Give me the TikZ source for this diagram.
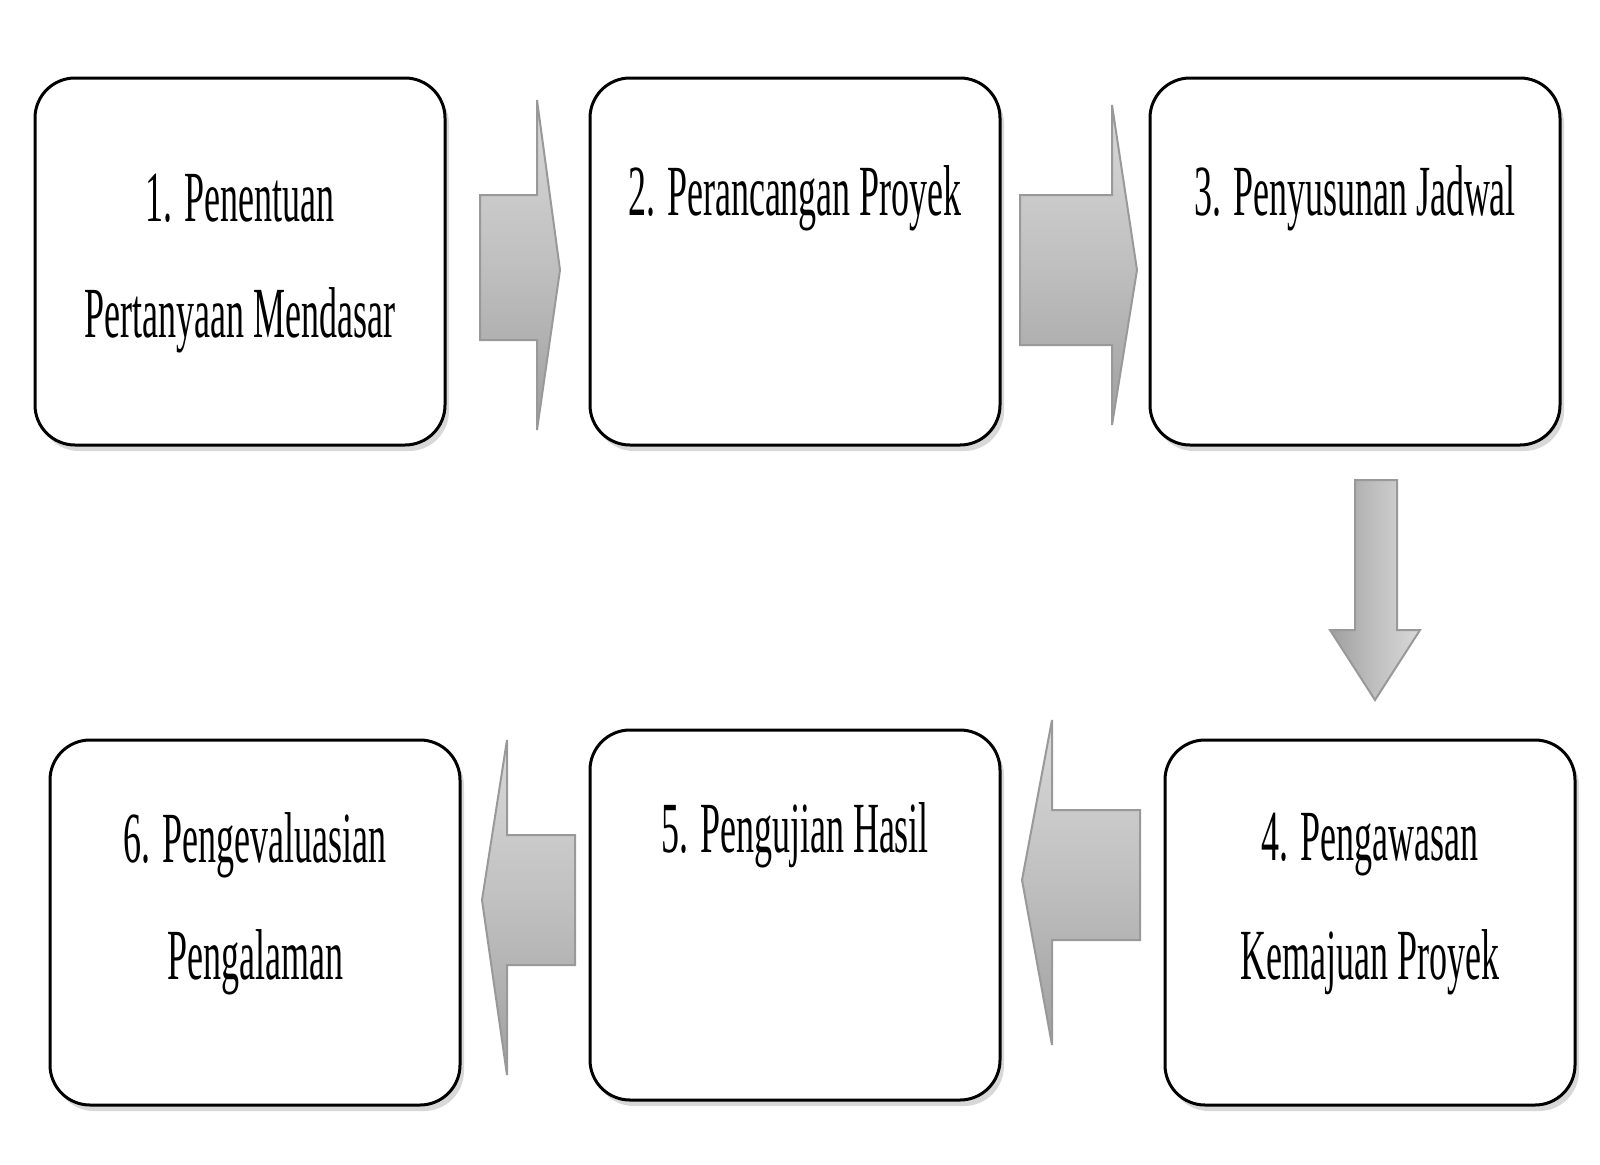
\documentclass[tikz,border=0pt]{standalone}
\usepackage{fontspec}
\setmainfont{Liberation Serif}[FakeStretch=0.5]
\usetikzlibrary{shadows}
\begin{document}
\begin{tikzpicture}[x=1pt,y=-1pt,
 box/.style={draw=black,line width=3pt,rounded corners=40pt,fill=white,
   drop shadow={shadow xshift=4pt,shadow yshift=-6pt,fill=gray!60}},
 lbl/.style={font=\fontsize{72}{80}\selectfont,anchor=center},
 barrow/.style={draw=gray!80,line width=2pt,top color=gray!30,bottom color=gray!75,middle color=gray!50}]
\useasboundingbox (0,0) rectangle (1600,1164);
\fill[white] (0,0) rectangle (1600,1164);
% boxes
\draw[box] (35,78) rectangle (445,445);
\draw[box] (590,78) rectangle (1000,445);
\draw[box] (1150,78) rectangle (1560,445);
\draw[box] (1165,740) rectangle (1575,1105);
\draw[box] (590,730) rectangle (1000,1100);
\draw[box] (50,740) rectangle (460,1105);
% texts
\node[lbl] (t1a) at (240,198) {1. Penentuan};
\node[lbl] (t1b) at (240,320) {Pertanyaan Mendasar};
\node[lbl] (t2) at (795,198) {2. Perancangan Proyek};
\node[lbl] (t3) at (1355,198) {3. Penyusunan Jadwal};
\node[lbl] (t4a) at (1370,845) {4. Pengawasan};
\node[lbl] (t4b) at (1370,962) {Kemajuan Proyek};
\node[lbl] (t5) at (795,835) {5. Pengujian Hasil};
\node[lbl] (t6a) at (255,845) {6. Pengevaluasian};
\node[lbl] (t6b) at (255,962) {Pengalaman};
% arrows
\draw[barrow] (480,195) -- (537,195) -- (537,100) -- (560,270) -- (537,430) -- (537,340) -- (480,340) -- cycle;
\draw[barrow] (1020,195) -- (1112,195) -- (1112,105) -- (1137,270) -- (1112,425) -- (1112,345) -- (1020,345) -- cycle;
\draw[barrow,left color=gray!75,right color=gray!30,middle color=gray!50] (1355,480) -- (1397,480) -- (1397,630) -- (1420,630) -- (1375,700) -- (1330,630) -- (1355,630) -- cycle;
\draw[barrow] (1140,810) -- (1052,810) -- (1052,720) -- (1022,880) -- (1052,1045) -- (1052,940) -- (1140,940) -- cycle;
\draw[barrow] (575,835) -- (507,835) -- (507,740) -- (482,900) -- (507,1075) -- (507,965) -- (575,965) -- cycle;
\end{tikzpicture}
\end{document}
